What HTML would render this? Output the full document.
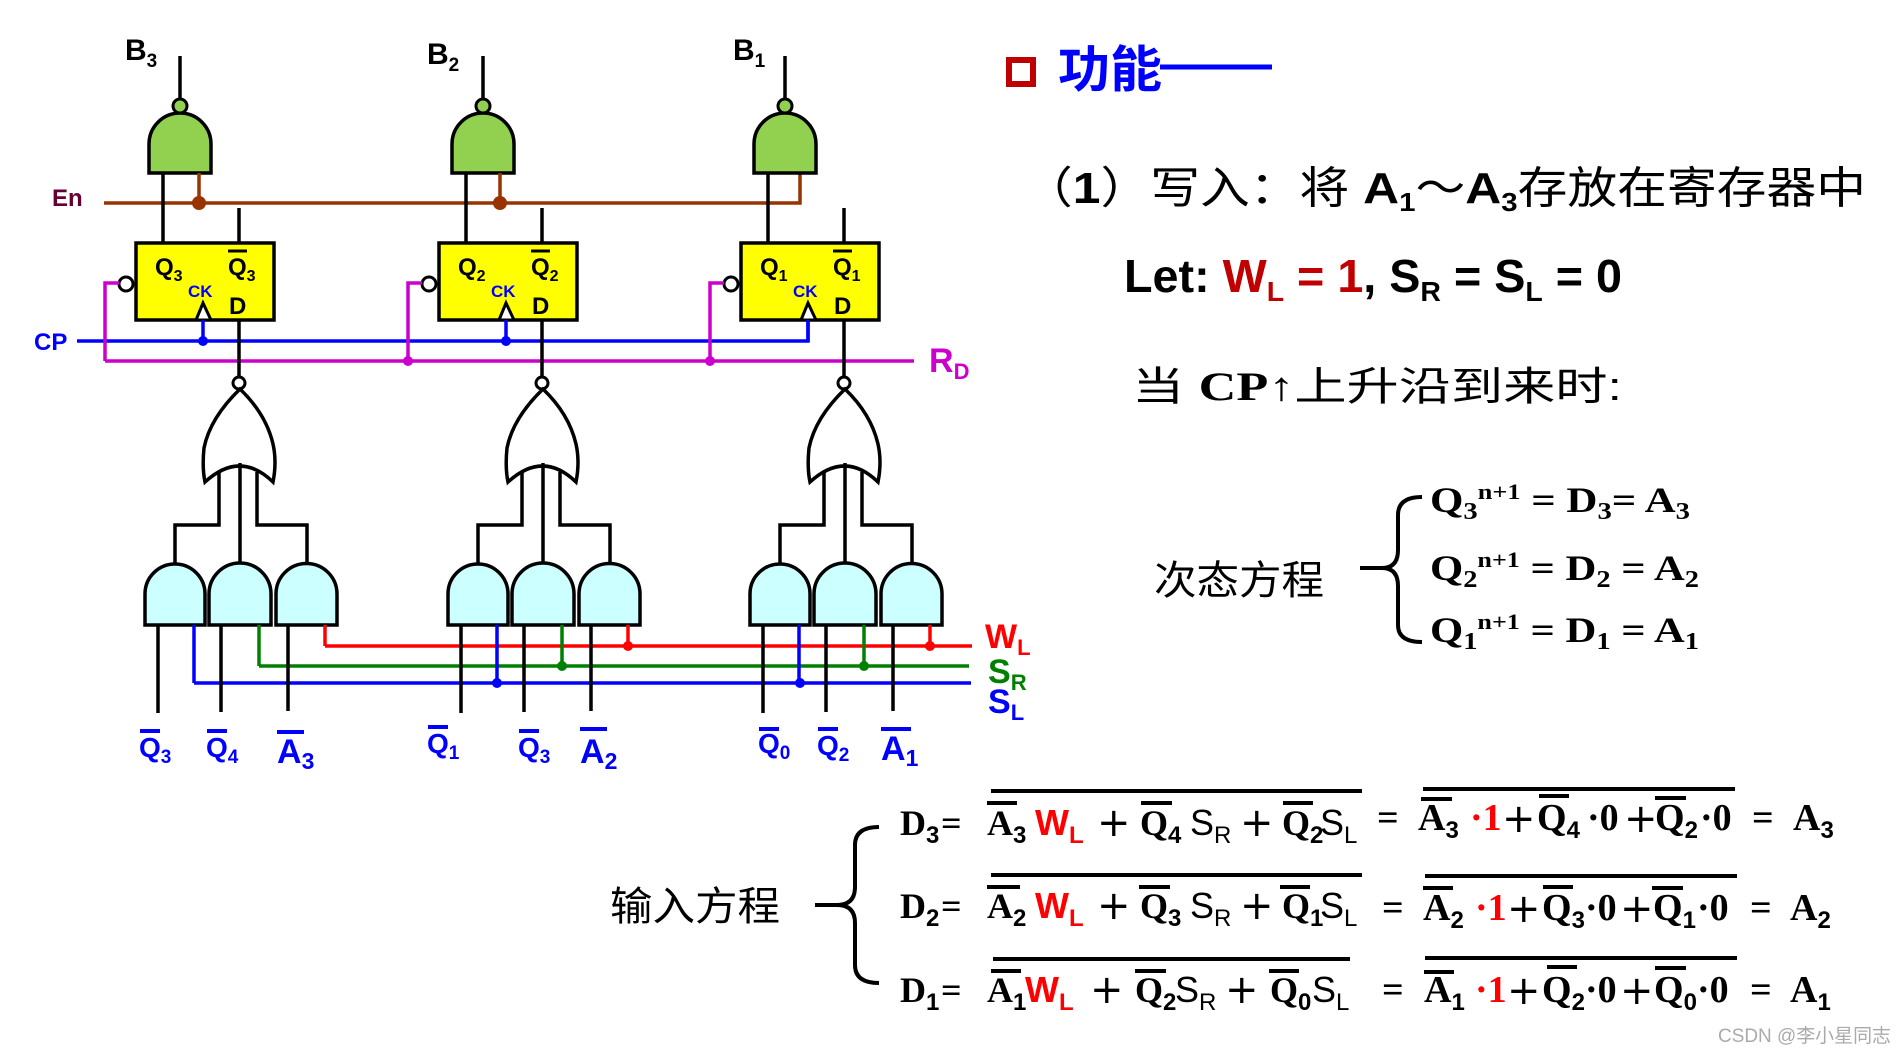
<!DOCTYPE html>
<html><head><meta charset="utf-8"><style>
html,body{margin:0;padding:0;background:#fff;}
svg{display:block;}
.s{font-family:"Liberation Sans","Noto Sans CJK SC",sans-serif;}
.r{font-family:"Liberation Serif","Noto Serif CJK SC",serif;}
.p{font-family:"DejaVu Sans",sans-serif;font-weight:normal;font-size:40px;}
</style></head><body>
<svg width="1903" height="1051" viewBox="0 0 1903 1051" xmlns="http://www.w3.org/2000/svg">
<defs>
<g id="blk">
  <line x1="180" y1="56" x2="180" y2="99" stroke="#000" stroke-width="3.5"/>
  <path d="M149,173 V144 A31,31 0 0 1 211,144 V173 Z" fill="#92d050" stroke="#000" stroke-width="3.5"/>
  <circle cx="180" cy="106" r="7" fill="#92d050" stroke="#000" stroke-width="3"/>
  <line x1="163" y1="173" x2="163" y2="243" stroke="#000" stroke-width="3.5"/>
  <line x1="239" y1="208" x2="239" y2="243" stroke="#000" stroke-width="3.5"/>
  <rect x="136" y="243" width="138" height="77" fill="#ffff00" stroke="#000" stroke-width="3.5"/>
  <circle cx="126" cy="284" r="7" fill="#fff" stroke="#000" stroke-width="3"/>
  <polyline points="119,283 105,283 105,361" fill="none" stroke="#cc00cc" stroke-width="3.5"/>
  <path d="M196,320 L203,303 L211,320 Z" fill="#fff" stroke="#000" stroke-width="3"/>
  <line x1="239" y1="320" x2="239" y2="377" stroke="#000" stroke-width="3.5"/>
  <circle cx="239" cy="383" r="6" fill="#fff" stroke="#000" stroke-width="3"/>
  <path d="M240,389 Q210,418 204,448 Q202,468 205,482 Q240,450 273,482 Q277,462 273,444 Q266,414 240,389 Z" fill="#fff" stroke="#000" stroke-width="3.5"/>
  <polyline points="219,472 219,525 175,525 175,564" fill="none" stroke="#000" stroke-width="3.5"/>
  <line x1="240" y1="463" x2="240" y2="564" stroke="#000" stroke-width="3.5"/>
  <polyline points="257,472 257,525 307,525 307,564" fill="none" stroke="#000" stroke-width="3.5"/>
  <path d="M145,625 V594 A30,30 0 0 1 205,594 V625 Z" fill="#ccffff" stroke="#000" stroke-width="3.5"/>
  <path d="M209,625 V594 A31,31 0 0 1 271,594 V625 Z" fill="#ccffff" stroke="#000" stroke-width="3.5"/>
  <path d="M276,625 V594 A30.5,30.5 0 0 1 337,594 V625 Z" fill="#ccffff" stroke="#000" stroke-width="3.5"/>
  <line x1="158" y1="625" x2="158" y2="713" stroke="#000" stroke-width="3.5"/>
  <line x1="221" y1="625" x2="221" y2="712" stroke="#000" stroke-width="3.5"/>
  <line x1="288" y1="625" x2="288" y2="711" stroke="#000" stroke-width="3.5"/>
  <line x1="194" y1="625" x2="194" y2="683" stroke="#0000ff" stroke-width="3.5"/>
  <line x1="259" y1="625" x2="259" y2="666" stroke="#008000" stroke-width="3.5"/>
  <line x1="325" y1="625" x2="325" y2="646" stroke="#ff0000" stroke-width="3.5"/>
  <line x1="203" y1="320" x2="203" y2="341" stroke="#0000ff" stroke-width="3.5"/>
  <line x1="228" y1="251" x2="247" y2="251" stroke="#000" stroke-width="3"/>
  <text x="188" y="297" class="s" font-size="17" font-weight="bold" fill="#0000ff">CK</text>
  <text x="229" y="314" class="s" font-size="24" font-weight="bold">D</text>
</g>
</defs>

<polyline points="104,203 800,203 800,173" fill="none" stroke="#993300" stroke-width="3.5"/>
<polyline points="77,341 808,341 808,320" fill="none" stroke="#0000ff" stroke-width="3.5"/>
<line x1="105" y1="361" x2="914" y2="361" stroke="#cc00cc" stroke-width="3.5"/>
<line x1="325" y1="646" x2="972" y2="646" stroke="#ff0000" stroke-width="3.5"/>
<line x1="259" y1="666" x2="969" y2="666" stroke="#008000" stroke-width="3.5"/>
<line x1="194" y1="683" x2="971" y2="683" stroke="#0000ff" stroke-width="3.5"/>

<use href="#blk"/>
<use href="#blk" transform="translate(303,0)"/>
<use href="#blk" transform="translate(605,0)"/>

<line x1="199" y1="173" x2="199" y2="203" stroke="#993300" stroke-width="3.5"/>
<line x1="500" y1="173" x2="500" y2="203" stroke="#993300" stroke-width="3.5"/>
<circle cx="199" cy="203" r="7" fill="#993300"/>
<circle cx="500" cy="203" r="7" fill="#993300"/>
<circle cx="203" cy="341" r="5" fill="#0000ff"/>
<circle cx="506" cy="341" r="5" fill="#0000ff"/>
<circle cx="408" cy="361" r="5" fill="#cc00cc"/>
<circle cx="710" cy="361" r="5" fill="#cc00cc"/>
<circle cx="628" cy="646" r="5" fill="#ff0000"/>
<circle cx="930" cy="646" r="5" fill="#ff0000"/>
<circle cx="562" cy="666" r="5" fill="#008000"/>
<circle cx="864" cy="666" r="5" fill="#008000"/>
<circle cx="497" cy="683" r="5" fill="#0000ff"/>
<circle cx="800" cy="683" r="5" fill="#0000ff"/>

<g class="s" font-weight="bold">
<text x="125" y="60" font-size="30">B<tspan font-size="19" dy="7">3</tspan></text>
<text x="427" y="64" font-size="30">B<tspan font-size="19" dy="7">2</tspan></text>
<text x="733" y="60" font-size="30">B<tspan font-size="19" dy="7">1</tspan></text>
<text x="52" y="206" font-size="24" fill="#660033">En</text>
<text x="34" y="350" font-size="24" fill="#0000ff">CP</text>
<text x="929" y="372" font-size="34" fill="#cc00cc">R<tspan font-size="22" dy="7">D</tspan></text>
<text x="985" y="648" font-size="34" fill="#ff0000">W<tspan font-size="22" dy="7">L</tspan></text>
<text x="988" y="683" font-size="34" fill="#008000">S<tspan font-size="22" dy="7">R</tspan></text>
<text x="988" y="713" font-size="34" fill="#0000ff">S<tspan font-size="22" dy="7">L</tspan></text>
<text x="155" y="275" font-size="24">Q<tspan font-size="16" dy="6">3</tspan></text>
<text x="228" y="275" font-size="24">Q<tspan font-size="16" dy="6">3</tspan></text>
<text x="458" y="275" font-size="24">Q<tspan font-size="16" dy="6">2</tspan></text>
<text x="531" y="275" font-size="24">Q<tspan font-size="16" dy="6">2</tspan></text>
<text x="760" y="275" font-size="24">Q<tspan font-size="16" dy="6">1</tspan></text>
<text x="833" y="275" font-size="24">Q<tspan font-size="16" dy="6">1</tspan></text>
</g>
<g class="s" font-weight="bold" fill="#0000ff">
<text x="139" y="757" font-size="28">Q<tspan font-size="19" dy="6">3</tspan></text>
<text x="206" y="757" font-size="28">Q<tspan font-size="19" dy="6">4</tspan></text>
<text x="277" y="763" font-size="34">A<tspan font-size="23" dy="6">3</tspan></text>
<text x="427" y="753" font-size="28">Q<tspan font-size="19" dy="6">1</tspan></text>
<text x="518" y="757" font-size="28">Q<tspan font-size="19" dy="6">3</tspan></text>
<text x="580" y="763" font-size="34">A<tspan font-size="23" dy="6">2</tspan></text>
<text x="758" y="753" font-size="28">Q<tspan font-size="19" dy="6">0</tspan></text>
<text x="817" y="755" font-size="28">Q<tspan font-size="19" dy="6">2</tspan></text>
<text x="881" y="760" font-size="34">A<tspan font-size="23" dy="6">1</tspan></text>
</g>
<g stroke="#0000ff" stroke-width="4">
<line x1="140" y1="731" x2="160" y2="731"/><line x1="207" y1="731" x2="227" y2="731"/><line x1="277" y1="732" x2="304" y2="732"/>
<line x1="428" y1="727" x2="448" y2="727"/><line x1="519" y1="731" x2="539" y2="731"/><line x1="580" y1="729" x2="607" y2="729"/>
<line x1="759" y1="729" x2="779" y2="729"/><line x1="818" y1="729" x2="838" y2="729"/><line x1="881" y1="729" x2="911" y2="729"/>
</g>

<rect x="1009" y="60" width="24" height="24" fill="none" stroke="#c00000" stroke-width="6"/>
<text x="1058" y="87" class="s" font-size="50" font-weight="bold" fill="#0000ff" textLength="104" lengthAdjust="spacingAndGlyphs">功能</text>
<line x1="1160" y1="67" x2="1272" y2="67" stroke="#0000ff" stroke-width="5"/>

<text x="1023" y="203" class="s" font-size="44" textLength="843" lengthAdjust="spacingAndGlyphs">（<tspan font-weight="bold">1</tspan>）写入：将 <tspan font-weight="bold">A</tspan><tspan font-size="26" dy="8" font-weight="bold">1</tspan><tspan dy="-8">～</tspan><tspan font-weight="bold">A</tspan><tspan font-size="26" dy="8" font-weight="bold">3</tspan><tspan dy="-8">存放在寄存器中</tspan></text>

<text x="1124" y="292" class="s" font-size="46" font-weight="bold" textLength="498" lengthAdjust="spacingAndGlyphs">Let: <tspan fill="#c00000">W</tspan><tspan fill="#c00000" font-size="28" dy="9">L</tspan><tspan fill="#c00000" dy="-9"> = 1</tspan>, S<tspan font-size="28" dy="9">R</tspan><tspan dy="-9"> = S</tspan><tspan font-size="28" dy="9">L</tspan><tspan dy="-9"> = 0</tspan></text>

<text x="1132" y="400" class="s" font-size="40" textLength="490" lengthAdjust="spacingAndGlyphs">当 <tspan class="r" font-weight="bold">CP</tspan>↑上升沿到来时:</text>

<text x="1154" y="594" class="s" font-size="40" textLength="170" lengthAdjust="spacingAndGlyphs">次态方程</text>
<path d="M1360,568 H1382 Q1398,568 1398,550 V515 Q1398,497 1422,497 M1382,568 Q1398,568 1398,586 V625 Q1398,642 1422,642" fill="none" stroke="#000" stroke-width="4"/>
<g class="r" font-weight="bold" font-size="36">
<text x="1430" y="512" textLength="260" lengthAdjust="spacingAndGlyphs">Q<tspan font-size="24" dy="7">3</tspan><tspan font-size="22" dy="-20">n+1</tspan><tspan dy="13"> = D</tspan><tspan font-size="24" dy="7">3</tspan><tspan dy="-7">= A</tspan><tspan font-size="24" dy="7">3</tspan></text>
<text x="1430" y="580" textLength="269" lengthAdjust="spacingAndGlyphs">Q<tspan font-size="24" dy="7">2</tspan><tspan font-size="22" dy="-20">n+1</tspan><tspan dy="13"> = D</tspan><tspan font-size="24" dy="7">2</tspan><tspan dy="-7"> = A</tspan><tspan font-size="24" dy="7">2</tspan></text>
<text x="1430" y="642" textLength="269" lengthAdjust="spacingAndGlyphs">Q<tspan font-size="24" dy="7">1</tspan><tspan font-size="22" dy="-20">n+1</tspan><tspan dy="13"> = D</tspan><tspan font-size="24" dy="7">1</tspan><tspan dy="-7"> = A</tspan><tspan font-size="24" dy="7">1</tspan></text>
</g>

<text x="610" y="920" class="s" font-size="40" textLength="170" lengthAdjust="spacingAndGlyphs">输入方程</text>
<path d="M815,905 H837 Q855,905 855,887 V845 Q855,827 879,827 M837,905 Q855,905 855,923 V965 Q855,983 879,983" fill="none" stroke="#000" stroke-width="4"/>

<g font-weight="bold" font-size="36">
<text x="900" y="835" class="r">D<tspan font-size="24" dy="8" class="s">3</tspan></text>
<text x="941" y="835" class="r">=</text>
<text x="987" y="835" class="r">A<tspan font-size="24" dy="8" class="s">3</tspan></text>
<text x="1035" y="835" class="s" fill="#ff0000">W<tspan font-size="24" dy="8">L</tspan></text>
<text x="1097" y="836" class="p">+</text>
<text x="1140" y="835" class="r">Q<tspan font-size="24" dy="8" class="s">4</tspan></text>
<text x="1190" y="835" class="s" font-weight="normal">S<tspan font-size="24" dy="8">R</tspan></text>
<text x="1240" y="836" class="p">+</text>
<text x="1282" y="835" class="r">Q<tspan font-size="24" dy="8" class="s">2</tspan></text>
<text x="1320" y="835" class="s" font-weight="normal">S<tspan font-size="24" dy="8">L</tspan></text>

<text x="900" y="918" class="r">D<tspan font-size="24" dy="8" class="s">2</tspan></text>
<text x="941" y="918" class="r">=</text>
<text x="987" y="918" class="r">A<tspan font-size="24" dy="8" class="s">2</tspan></text>
<text x="1035" y="918" class="s" fill="#ff0000">W<tspan font-size="24" dy="8">L</tspan></text>
<text x="1097" y="919" class="p">+</text>
<text x="1140" y="918" class="r">Q<tspan font-size="24" dy="8" class="s">3</tspan></text>
<text x="1190" y="918" class="s" font-weight="normal">S<tspan font-size="24" dy="8">R</tspan></text>
<text x="1240" y="919" class="p">+</text>
<text x="1282" y="918" class="r">Q<tspan font-size="24" dy="8" class="s">1</tspan></text>
<text x="1320" y="918" class="s" font-weight="normal">S<tspan font-size="24" dy="8">L</tspan></text>

<text x="900" y="1002" class="r">D<tspan font-size="24" dy="8" class="s">1</tspan></text>
<text x="941" y="1002" class="r">=</text>
<text x="987" y="1002" class="r">A<tspan font-size="24" dy="8" class="s">1</tspan></text>
<text x="1025" y="1002" class="s" fill="#ff0000">W<tspan font-size="24" dy="8">L</tspan></text>
<text x="1090" y="1003" class="p">+</text>
<text x="1135" y="1002" class="r">Q<tspan font-size="24" dy="8" class="s">2</tspan></text>
<text x="1175" y="1002" class="s" font-weight="normal">S<tspan font-size="24" dy="8">R</tspan></text>
<text x="1225" y="1003" class="p">+</text>
<text x="1270" y="1002" class="r">Q<tspan font-size="24" dy="8" class="s">0</tspan></text>
<text x="1312" y="1002" class="s" font-weight="normal">S<tspan font-size="24" dy="8">L</tspan></text>
</g>
<g stroke="#000" stroke-width="4">
<line x1="991" y1="791" x2="1362" y2="791"/>
<line x1="991" y1="875" x2="1362" y2="875"/>
<line x1="993" y1="959" x2="1350" y2="959"/>
<line x1="987" y1="803" x2="1017" y2="803"/><line x1="1141" y1="803" x2="1172" y2="803"/><line x1="1283" y1="803" x2="1313" y2="803"/>
<line x1="987" y1="887" x2="1020" y2="887"/><line x1="1139" y1="887" x2="1170" y2="887"/><line x1="1280" y1="887" x2="1310" y2="887"/>
<line x1="991" y1="971" x2="1021" y2="971"/><line x1="1135" y1="971" x2="1166" y2="971"/><line x1="1269" y1="971" x2="1299" y2="971"/>
</g>

<g font-weight="bold" font-size="38">
<text x="1377" y="830" class="r">=</text>
<text x="1418" y="830" class="r">A<tspan font-size="24" dy="8" class="s">3</tspan></text>
<text x="1470" y="830" class="r" fill="#ff0000">·1</text>
<text x="1502" y="832" class="p">+</text>
<text x="1537" y="830" class="r">Q<tspan font-size="24" dy="8" class="s">4</tspan></text>
<text x="1587" y="830" class="r">·0</text>
<text x="1624" y="832" class="p">+</text>
<text x="1655" y="830" class="r">Q<tspan font-size="24" dy="8" class="s">2</tspan></text>
<text x="1700" y="830" class="r">·0</text>
<text x="1752" y="830" class="r">=</text>
<text x="1793" y="830" class="r">A<tspan font-size="24" dy="8" class="s">3</tspan></text>

<text x="1382" y="920" class="r">=</text>
<text x="1423" y="920" class="r">A<tspan font-size="24" dy="8" class="s">2</tspan></text>
<text x="1475" y="920" class="r" fill="#ff0000">·1</text>
<text x="1507" y="922" class="p">+</text>
<text x="1542" y="920" class="r">Q<tspan font-size="24" dy="8" class="s">3</tspan></text>
<text x="1585" y="920" class="r">·0</text>
<text x="1620" y="922" class="p">+</text>
<text x="1653" y="920" class="r">Q<tspan font-size="24" dy="8" class="s">1</tspan></text>
<text x="1697" y="920" class="r">·0</text>
<text x="1750" y="920" class="r">=</text>
<text x="1790" y="920" class="r">A<tspan font-size="24" dy="8" class="s">2</tspan></text>

<text x="1382" y="1002" class="r">=</text>
<text x="1424" y="1002" class="r">A<tspan font-size="24" dy="8" class="s">1</tspan></text>
<text x="1475" y="1002" class="r" fill="#ff0000">·1</text>
<text x="1507" y="1004" class="p">+</text>
<text x="1542" y="1002" class="r">Q<tspan font-size="24" dy="8" class="s">2</tspan></text>
<text x="1585" y="1002" class="r">·0</text>
<text x="1620" y="1004" class="p">+</text>
<text x="1654" y="1002" class="r">Q<tspan font-size="24" dy="8" class="s">0</tspan></text>
<text x="1697" y="1002" class="r">·0</text>
<text x="1750" y="1002" class="r">=</text>
<text x="1790" y="1002" class="r">A<tspan font-size="24" dy="8" class="s">1</tspan></text>
</g>
<g stroke="#000" stroke-width="4">
<line x1="1423" y1="789" x2="1735" y2="789"/>
<line x1="1425" y1="876" x2="1737" y2="876"/>
<line x1="1425" y1="958" x2="1737" y2="958"/>
<line x1="1421" y1="799" x2="1452" y2="799"/><line x1="1539" y1="796" x2="1569" y2="796"/><line x1="1655" y1="798" x2="1686" y2="798"/>
<line x1="1423" y1="888" x2="1453" y2="888"/><line x1="1543" y1="887" x2="1573" y2="887"/><line x1="1652" y1="888" x2="1683" y2="888"/>
<line x1="1424" y1="972" x2="1454" y2="972"/><line x1="1547" y1="967" x2="1577" y2="967"/><line x1="1655" y1="968" x2="1686" y2="968"/>
</g>

<text x="1718" y="1042" class="s" font-size="19" fill="#aaaaaa" textLength="173" lengthAdjust="spacingAndGlyphs">CSDN @李小星同志</text>
</svg>
</body></html>
